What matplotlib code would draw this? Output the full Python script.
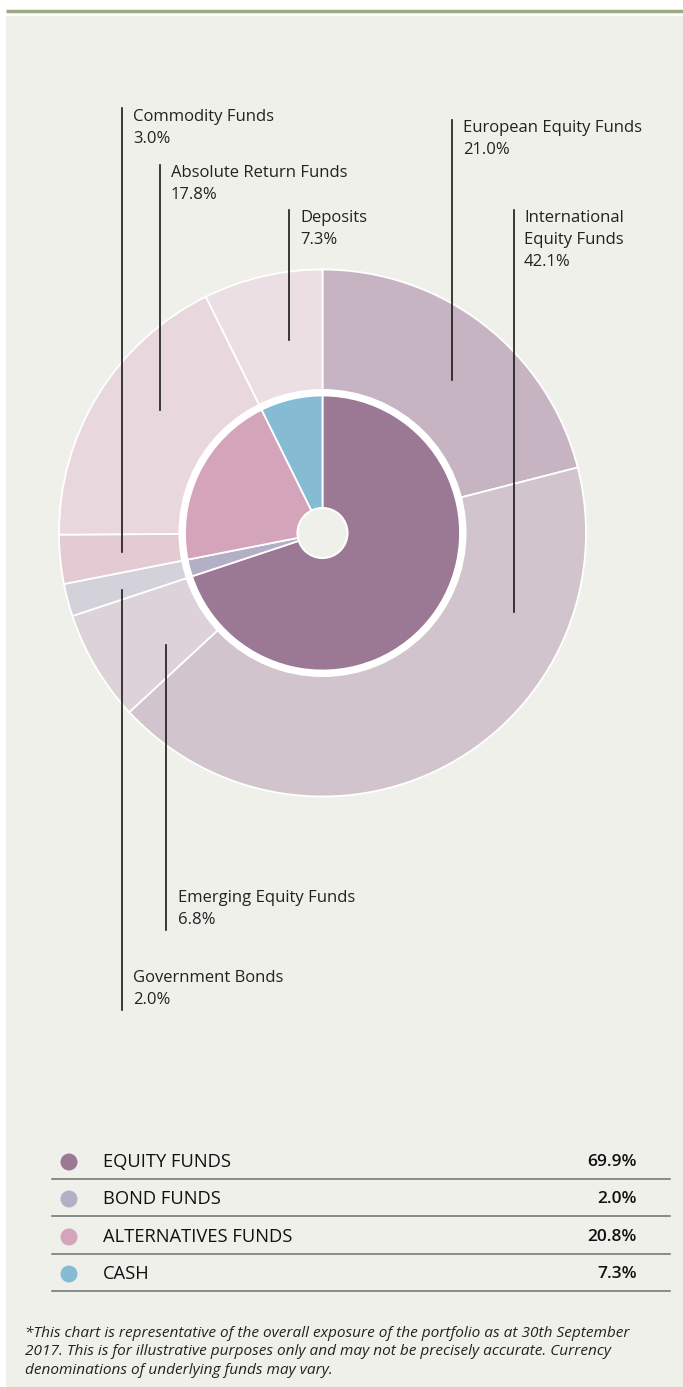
import numpy as np
import matplotlib.pyplot as plt
from matplotlib.patches import Circle, Rectangle

W, H = 683, 1387

# outer ring (clockwise from 12 o'clock)
outer_labels = ["European Equity Funds", "International\nEquity Funds", "Emerging Equity Funds",
                "Government Bonds", "Commodity Funds", "Absolute Return Funds", "Deposits"]
outer_values = [21.0, 42.1, 6.8, 2.0, 3.0, 17.8, 7.3]
outer_colors = ["#c6b4c2", "#d2c4cd", "#ddd2d7", "#d3d2db", "#e3cad3", "#e8d8de", "#ecdfe3"]

# inner ring
inner_labels = ["EQUITY FUNDS", "BOND FUNDS", "ALTERNATIVES FUNDS", "CASH"]
inner_values = [69.9, 2.0, 20.8, 7.3]
inner_colors = ["#9b7894", "#b3afc6", "#d3a4ba", "#86bcd3"]

footnote = ("*This chart is representative of the overall exposure of the portfolio as at 30th September\n"
            "2017. This is for illustrative purposes only and may not be precisely accurate. Currency\n"
            "denominations of underlying funds may vary.")

BG = "#f0f0eb"
plt.rcParams['font.family'] = ['Open Sans', 'DejaVu Sans']

fig = plt.figure(figsize=(W / 100, H / 100), dpi=100)
fig.patch.set_facecolor("white")
ax = fig.add_axes([0, 0, 1, 1])

def Y(py):
    return H - py

cx, cy = 322.5, Y(533)

ax.add_patch(Rectangle((6, 0), W - 6, Y(16), facecolor=BG, edgecolor="none", zorder=0))
ax.plot([6, W], [Y(11), Y(11)], color="#9aab84", lw=2.5, solid_capstyle="butt", zorder=1)

ax.pie(outer_values, radius=263.5, center=(cx, cy), startangle=90, counterclock=False,
       colors=outer_colors, wedgeprops=dict(edgecolor="white", linewidth=1.3))
ax.add_patch(Circle((cx, cy), 144, facecolor="white", edgecolor="none", zorder=3))
ax.pie(inner_values, radius=137.5, center=(cx, cy), startangle=90, counterclock=False,
       colors=inner_colors, wedgeprops=dict(edgecolor="white", linewidth=1.3, zorder=4))
ax.add_patch(Circle((cx, cy), 25, facecolor=BG, edgecolor="white", lw=1.5, zorder=6))

# leader lines and labels: (line x, line top, line bottom, text x, text top)
callouts = [
    (452, 120, 380, 463, 120),
    (514, 210, 612, 524, 210),
    (166, 645, 930, 178, 890),
    (122, 590, 1010, 133, 970),
    (122, 108, 552, 133, 109),
    (160, 165, 410, 171, 165),
    (289, 210, 340, 300, 210),
]
for (lx, t, b, tx, ty), lab, v in zip(callouts, outer_labels, outer_values):
    ax.plot([lx, lx], [Y(t), Y(b)], color="#1a1a1a", lw=1.2, zorder=8)
    ax.text(tx, Y(ty), f"{lab}\n{v:.1f}%", ha="left", va="top", fontsize=12,
            color="#222222", linespacing=1.48, zorder=9)

# legend table
row_y = [1162, 1199, 1237, 1274]
for ry, lab, v, c in zip(row_y, inner_labels, inner_values, inner_colors):
    ax.add_patch(Circle((69, Y(ry)), 8.5, facecolor=c, edgecolor="none", zorder=5))
    ax.text(103, Y(ry), lab, ha="left", va="center", fontsize=13.2, color="#111111")
    ax.text(637, Y(ry), f"{v:.1f}%", ha="right", va="center", fontsize=12.5,
            color="#111111", fontweight="semibold")
    ax.plot([52, 670], [Y(ry + 17), Y(ry + 17)], color="#6e6e6e", lw=1.1)

ax.text(25, Y(1326), footnote, ha="left", va="top", fontsize=11.1, style="italic",
        color="#222222", linespacing=1.3)

ax.set_xlim(0, W)
ax.set_ylim(0, H)
ax.set_aspect("equal")
ax.axis("off")
fig.savefig("out.png", dpi=100, facecolor=fig.get_facecolor())
